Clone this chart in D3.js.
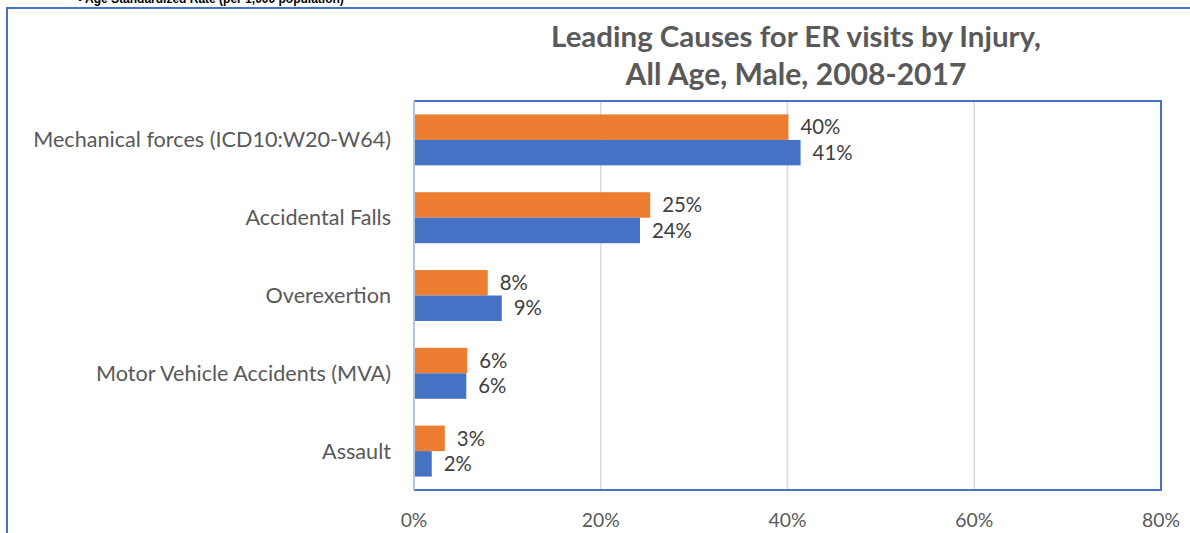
<!DOCTYPE html>
<html><head><meta charset="utf-8">
<script src="https://cdn.jsdelivr.net/npm/d3@7"></script>
<style>html,body{margin:0;padding:0;background:#fff;overflow:hidden}</style>
</head><body>
<svg id="c" width="1190" height="533"></svg>
<script>
const categories = ["Mechanical forces (ICD10:W20-W64)","Accidental Falls","Overexertion","Motor Vehicle Accidents (MVA)","Assault"];
const seriesNames = ["Orange series","Blue series"];
const orangeValues = [0.401, 0.253, 0.079, 0.057, 0.033];
const blueValues = [0.414, 0.242, 0.094, 0.056, 0.019];
const xTicks = [0, 0.2, 0.4, 0.6, 0.8];
const titleLines = ["Leading Causes for ER visits by Injury,","All Age, Male, 2008-2017"];
const topNote = "\u2022  Age Standardized Rate (per 1,000 population)";

(function(){
const svg = d3.select("#c");
const font = "Lato, 'Open Sans', sans-serif";
const pLeft = 414, pRight = 1161, pTop = 101, pBottom = 490;

function fit(sel, target){
  const w = sel.node().getComputedTextLength();
  const fs = parseFloat(sel.attr("font-size"));
  sel.attr("font-size", fs * target / w);
}
function fitAll(sel, idx, target){
  const w = sel.nodes()[idx].getComputedTextLength();
  const fs = parseFloat(sel.attr("font-size"));
  sel.attr("font-size", fs * target / w);
}

// outer frame
svg.append("path").attr("d", `M7,540 L7,8 L1200,8`).attr("fill","none").attr("stroke","#4472C4").attr("stroke-width",2);
// top note (cut off at the top edge, as in the reference)
svg.append("text").attr("x",78).attr("y",3).attr("font-family","Arial, 'Liberation Sans', sans-serif")
  .attr("font-weight","bold").attr("font-size",12).attr("fill","#000").text(topNote);

// title
titleLines.forEach((t,i)=>{
  const tt = svg.append("text").attr("x",796).attr("y",[47,85][i]).attr("text-anchor","middle")
    .attr("font-family",font).attr("font-weight","bold").attr("font-size",26).attr("fill","#595959").text(t);
  fit(tt, i===0 ? 490 : 341);
});

const x = d3.scaleLinear().domain([0,0.8]).range([pLeft,pRight]);
const y = d3.scaleBand().domain(categories).range([pTop,pBottom]).paddingInner(0.345).paddingOuter(0.1725);
const ySub = d3.scaleBand().domain(seriesNames).range([0,y.bandwidth()]);

// gridlines
svg.append("g").selectAll("line").data(xTicks.slice(1,-1)).join("line")
  .attr("x1",d=>x(d)).attr("x2",d=>x(d)).attr("y1",pTop).attr("y2",pBottom)
  .attr("stroke","#D9D9D9").attr("stroke-width",1.5);

// bars
const groups = svg.append("g").selectAll("g").data(categories).join("g")
  .attr("transform",d=>`translate(0,${y(d)})`);
const colors = ["#ED7D31","#4472C4"];
const vals = [orangeValues, blueValues];
seriesNames.forEach((s,si)=>{
  groups.append("rect").attr("x",x(0)).attr("y",ySub(s))
    .attr("width",(d,i)=>x(vals[si][i])-x(0)).attr("height",ySub.bandwidth())
    .attr("fill",colors[si]);
  const lab = groups.append("text").attr("class","dl").attr("x",(d,i)=>x(vals[si][i])+12).attr("y",ySub(s)+ySub.bandwidth()/2)
    .attr("dy","0.35em").attr("font-family",font).attr("font-size",16).attr("fill","#404040")
    .text((d,i)=>d3.format(".0%")(vals[si][i]));
  fitAll(lab, 0, 40);
});

// plot box
svg.append("path").attr("d",`M${pLeft},${pTop} L${pRight},${pTop} L${pRight},${pBottom} L${pLeft},${pBottom}`)
  .attr("fill","none").attr("stroke","#4472C4").attr("stroke-width",2);
svg.append("line").attr("x1",pLeft).attr("x2",pLeft).attr("y1",pTop).attr("y2",pBottom)
  .attr("stroke","#B4C3DE").attr("stroke-width",2);

// y labels
const yl = svg.append("g").selectAll("text").data(categories).join("text")
  .attr("x",391).attr("y",d=>y(d)+y.bandwidth()/2).attr("dy","0.35em").attr("text-anchor","end")
  .attr("font-family",font).attr("font-size",18).attr("fill","#595959").text(d=>d);
fitAll(yl, 0, 358);

// x ticks
const xt = svg.append("g").selectAll("text").data(xTicks).join("text")
  .attr("x",d=>x(d)).attr("y",527).attr("text-anchor","middle")
  .attr("font-family",font).attr("font-size",16).attr("fill","#595959")
  .text(d3.format(".0%"));
fitAll(xt, 4, 38);
})();
</script>
</body></html>
